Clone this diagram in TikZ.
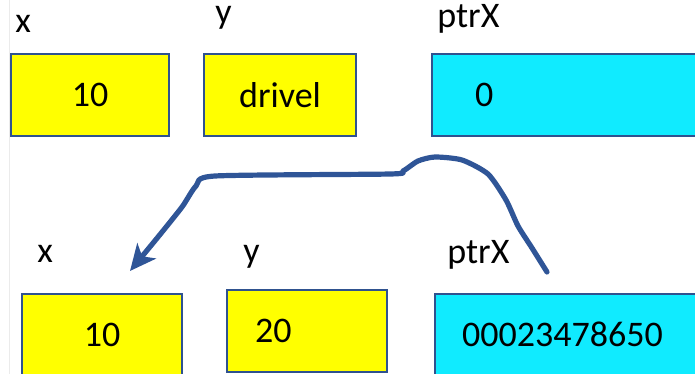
\documentclass[tikz,border=0pt]{standalone}
\usepackage{fontspec}
\setmainfont{Carlito}
\usetikzlibrary{arrows.meta}
\definecolor{varYellow}{HTML}{FFFF00}
\definecolor{ptrCyan}{HTML}{10EBFF}
\definecolor{boxEdge}{HTML}{2F528F}
\definecolor{arrowBlue}{HTML}{2F5597}

\begin{document}
\begin{tikzpicture}[x=0.5pt,y=-0.5pt,
	var/.style={rectangle,draw=boxEdge,line width=1pt,fill=varYellow,minimum height=41pt,font=\fontsize{18}{22}\selectfont},
	ptr/.style={var,fill=ptrCyan,anchor=west,align=left},
	varname/.style={anchor=base west,inner sep=0pt,font=\fontsize{18}{22}\selectfont},
	pointer/.style={draw=arrowBlue,line width=2.6pt,line join=round,line cap=round,-{Stealth[length=13pt,width=12pt,inset=3.5pt]}}]
	\useasboundingbox (0,0) rectangle (695,374);
	\draw[black!8] (9,0) -- (9,374);

	% before
	\node[varname] (xLabelA) at (15,33) {x};
	\node[varname] (yLabelA) at (215,24) {y};
	\node[varname] (ptrLabelA) at (437,28) {ptrX};
	\node[var,minimum width=79pt] (xA) at (90,95) {10};
	\node[var,minimum width=76pt] (yA) at (280,95) {drivel};
	\node[ptr,inner xsep=21.5pt,text width=107pt] (ptrA) at (431,95) {0};

	% after
	\node[varname] (xLabelB) at (37,262) {x};
	\node[varname] (yLabelB) at (243,262) {y};
	\node[varname] (ptrLabelB) at (447,263) {ptrX};
	\node[var,minimum width=80pt] (xB) at (102,334.5) {10};
	\node[var,anchor=west,align=left,inner xsep=14pt,text width=52pt] (yB) at (226,331) {20};
	\node[ptr,inner xsep=13.5pt,text width=123pt] (ptrB) at (434,334.5) {00023478650};

	\coordinate (pointFrom) at (547,272);
	\coordinate (pointTo) at (130,271);
\draw[pointer] plot[smooth,tension=0.4] coordinates {(pointFrom) (532,248) (518,226) (506,200) (488,174) (462,160) (435,157) (418,161) (403,171) (390,174) (215,176) (196,186) (182,207) (158,237) (pointTo)};

\end{tikzpicture}
\end{document}
